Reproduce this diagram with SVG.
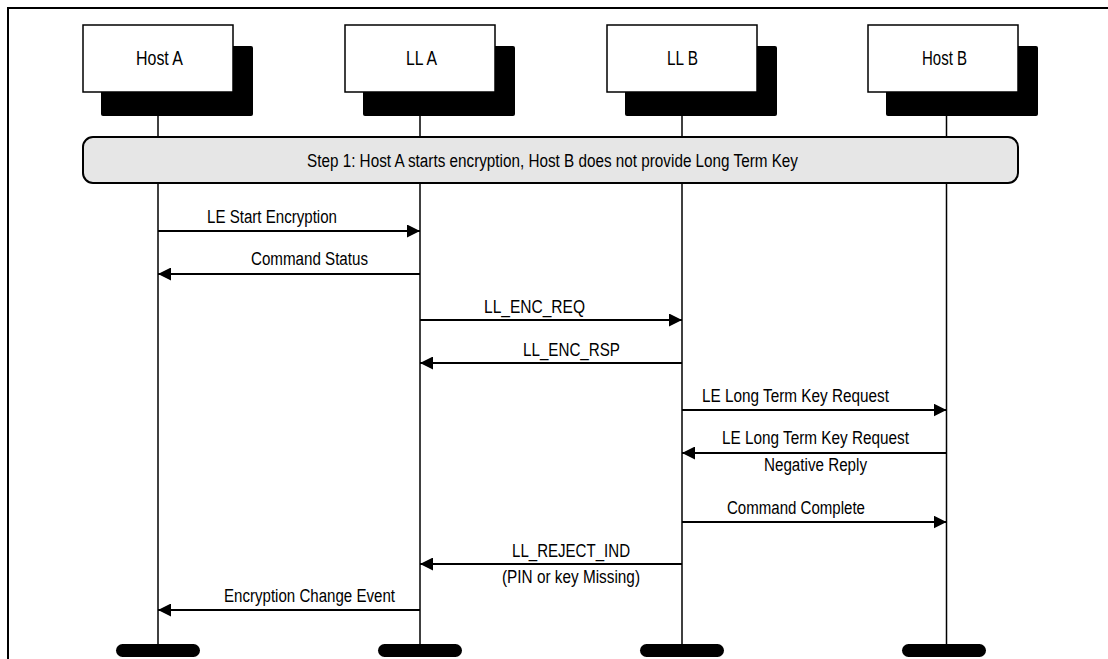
<svg xmlns="http://www.w3.org/2000/svg" width="1108" height="659" viewBox="0 0 1108 659">
  <style>
    text { font-family: "Liberation Sans", Arial, sans-serif; fill: #000; }
    .lbl { font-size: 20px; }
    .msg { font-size: 18px; }
    .frame { stroke: #000; stroke-width: 2; fill: none; }
    .life { stroke: #000; stroke-width: 1.5; }
    .box { fill: #fff; stroke: #000; stroke-width: 1.5; }
    .shadow { fill: #000; }
    .step { fill: #e6e6e6; stroke: #000; stroke-width: 2; }
    .arrow { stroke: #000; stroke-width: 2; fill: none; marker-end: url(#head); }
    .bar { fill: #000; }
  </style>
  <defs>
    <marker id="head" markerWidth="13" markerHeight="13" refX="13" refY="6.5" orient="auto" markerUnits="userSpaceOnUse">
      <path d="M0,0 L13,6.5 L0,13 Z" fill="#000"/>
    </marker>
  </defs>

  <!-- page frame -->
  <path class="frame" d="M8,659 L8,8 L1108,8"/>

  <!-- lifelines -->
  <g id="lifelines">
    <line class="life" x1="158" y1="92" x2="158" y2="650"/>
    <line class="life" x1="420" y1="92" x2="420" y2="650"/>
    <line class="life" x1="682" y1="92" x2="682" y2="650"/>
    <line class="life" x1="946.5" y1="92" x2="946.5" y2="650"/>
  </g>

  <!-- participants -->
  <g id="host-a">
    <rect class="shadow" x="101" y="46" width="152" height="70" rx="2"/>
    <rect class="box" x="83" y="25" width="150" height="67"/>
    <text class="lbl" x="136" y="65" textLength="47" lengthAdjust="spacingAndGlyphs">Host A</text>
  </g>
  <g id="ll-a">
    <rect class="shadow" x="363" y="46" width="152" height="70" rx="2"/>
    <rect class="box" x="345" y="25" width="150" height="67"/>
    <text class="lbl" x="406" y="65" textLength="31" lengthAdjust="spacingAndGlyphs">LL A</text>
  </g>
  <g id="ll-b">
    <rect class="shadow" x="625" y="46" width="152" height="70" rx="2"/>
    <rect class="box" x="607" y="25" width="150" height="67"/>
    <text class="lbl" x="667" y="65" textLength="31" lengthAdjust="spacingAndGlyphs">LL B</text>
  </g>
  <g id="host-b">
    <rect class="shadow" x="886" y="46" width="152" height="70" rx="2"/>
    <rect class="box" x="868" y="25" width="150" height="67"/>
    <text class="lbl" x="922" y="65" textLength="45" lengthAdjust="spacingAndGlyphs">Host B</text>
  </g>

  <!-- step banner -->
  <g id="step-1">
    <rect class="step" x="83" y="137" width="935" height="46" rx="10"/>
    <text class="msg" x="307" y="166.5" textLength="491" lengthAdjust="spacingAndGlyphs">Step 1: Host A starts encryption, Host B does not provide Long Term Key</text>
  </g>

  <!-- end-of-life bars -->
  <g id="bars">
    <rect class="bar" x="116" y="644" width="84" height="13" rx="6.5"/>
    <rect class="bar" x="378" y="644" width="84" height="13" rx="6.5"/>
    <rect class="bar" x="640" y="644" width="84" height="13" rx="6.5"/>
    <rect class="bar" x="902" y="644" width="84" height="13" rx="6.5"/>
  </g>

  <!-- messages -->
  <g id="connectors">
    <line class="arrow" x1="158" y1="231" x2="420" y2="231"/>
    <line class="arrow" x1="420" y1="274" x2="158" y2="274"/>
    <line class="arrow" x1="420" y1="320" x2="682" y2="320"/>
    <line class="arrow" x1="682" y1="363" x2="420" y2="363"/>
    <line class="arrow" x1="682" y1="410" x2="946.5" y2="410"/>
    <line class="arrow" x1="946.5" y1="453" x2="682" y2="453"/>
    <line class="arrow" x1="682" y1="522" x2="946.5" y2="522"/>
    <line class="arrow" x1="682" y1="564" x2="420" y2="564"/>
    <line class="arrow" x1="420" y1="610" x2="158" y2="610"/>
  </g>

  <!-- message labels -->
  <g id="labels">
    <text class="msg" x="207" y="223" textLength="130" lengthAdjust="spacingAndGlyphs">LE Start Encryption</text>
    <text class="msg" x="251" y="265" textLength="117" lengthAdjust="spacingAndGlyphs">Command Status</text>
    <text class="msg" x="484" y="313" textLength="101" lengthAdjust="spacingAndGlyphs">LL_ENC_REQ</text>
    <text class="msg" x="523" y="356" textLength="97" lengthAdjust="spacingAndGlyphs">LL_ENC_RSP</text>
    <text class="msg" x="702" y="402" textLength="187" lengthAdjust="spacingAndGlyphs">LE Long Term Key Request</text>
    <text class="msg" x="722" y="444" textLength="187" lengthAdjust="spacingAndGlyphs">LE Long Term Key Request</text>
    <text class="msg" x="764" y="471" textLength="103" lengthAdjust="spacingAndGlyphs">Negative Reply</text>
    <text class="msg" x="727" y="514" textLength="138" lengthAdjust="spacingAndGlyphs">Command Complete</text>
    <text class="msg" x="512" y="557" textLength="118" lengthAdjust="spacingAndGlyphs">LL_REJECT_IND</text>
    <text class="msg" x="502" y="583" textLength="138" lengthAdjust="spacingAndGlyphs">(PIN or key Missing)</text>
    <text class="msg" x="224" y="602" textLength="171" lengthAdjust="spacingAndGlyphs">Encryption Change Event</text>
  </g>
</svg>
